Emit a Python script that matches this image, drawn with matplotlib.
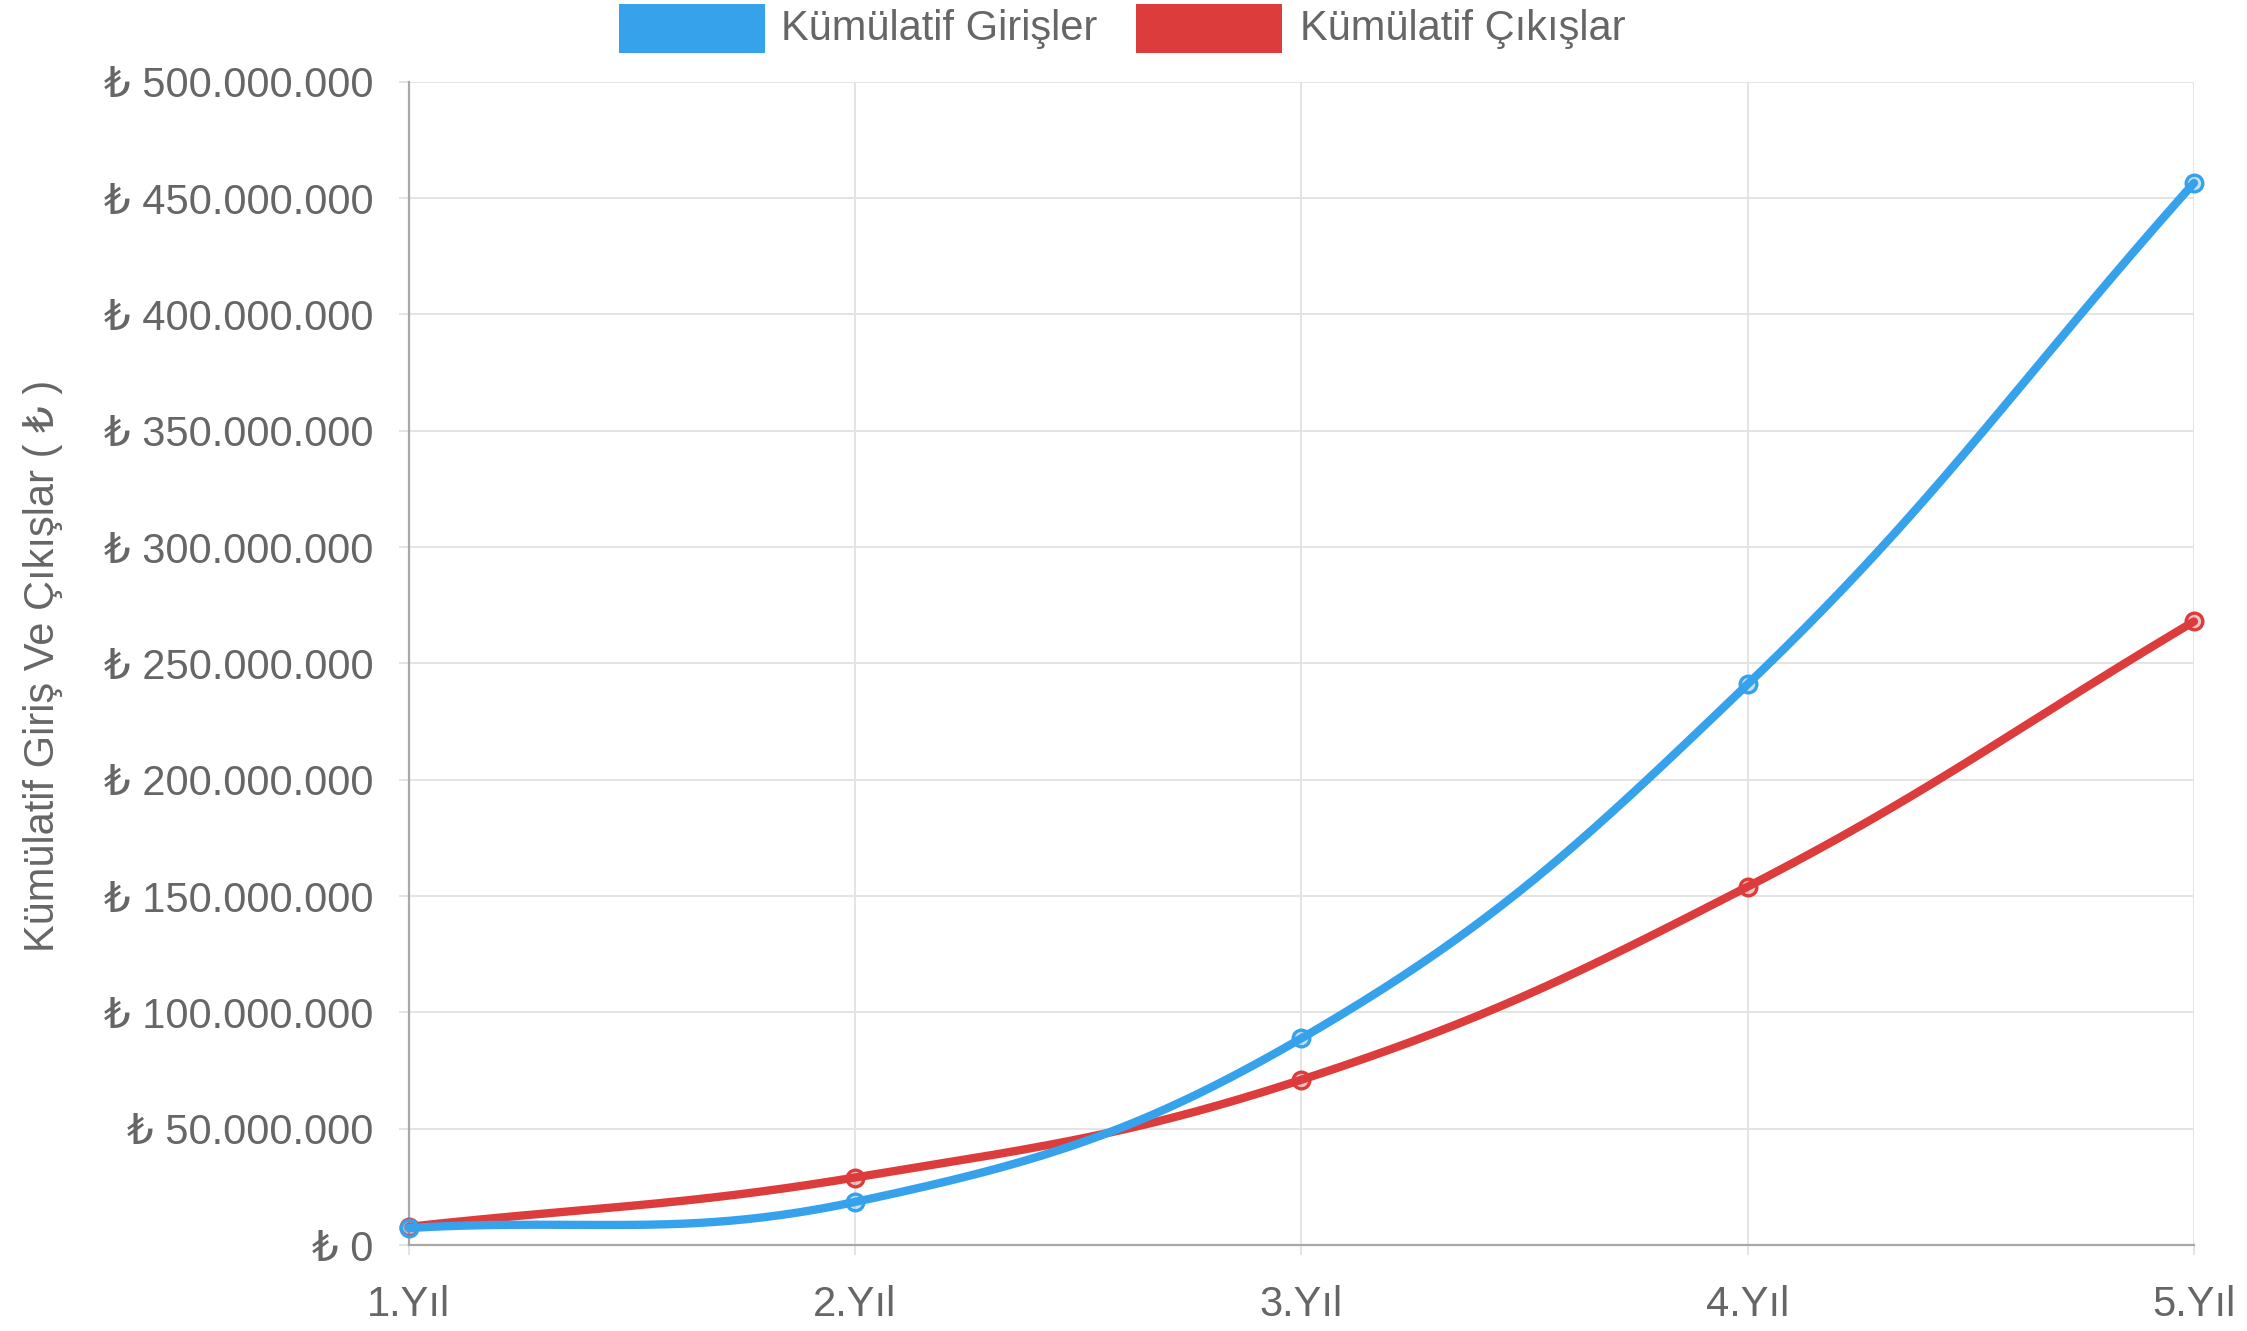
import numpy as np
import matplotlib
matplotlib.use("Agg")
import matplotlib.pyplot as plt
from matplotlib.colors import to_rgba
from matplotlib.patches import Rectangle
from matplotlib.ticker import FuncFormatter, MultipleLocator

# -------------------------------------------------
# Veriler
# -------------------------------------------------
yillar = ["1.Yıl", "2.Yıl", "3.Yıl", "4.Yıl", "5.Yıl"]
kumulatif_giris = [7_300_000, 18_500_000, 88_800_000, 241_000_000, 456_500_000]
kumulatif_cikis = [7_800_000, 29_000_000, 71_000_000, 154_000_000, 268_000_000]
seri_adlari = ["Kümülatif Girişler", "Kümülatif Çıkışlar"]
seri_renkleri = ["#36A2EB", "#DD3C3C"]
y_etiketi = "Kümülatif Giriş Ve Çıkışlar ( ₺ )"

YAZI = "#666666"
IZGARA = "#e4e4e4"
EKSEN = "#a8a8a8"
FONT = 30

plt.rcParams["font.family"] = ["Liberation Sans", "DejaVu Sans"]


def tl_bicim(deger, _pos):
    """Ekseni '₺ 50.000.000' biçiminde yazar."""
    return "₺ " + f"{deger:,.0f}".replace(",", ".")


def spline_egrisi(ax, xs, ys, tension=0.4, adim=80):
    """Chart.js tarzı kübik eğri (kontrol noktaları piksel uzayında)."""
    pts = ax.transData.transform(np.column_stack([xs, ys]))
    n = len(pts)
    kutu = ax.bbox
    onceki, sonraki = [], []
    for i in range(n):
        p0 = pts[max(i - 1, 0)]
        p1 = pts[i]
        p2 = pts[min(i + 1, n - 1)]
        d01 = np.hypot(*(p1 - p0))
        d12 = np.hypot(*(p2 - p1))
        toplam = d01 + d12
        s01 = d01 / toplam if toplam else 0
        s12 = d12 / toplam if toplam else 0
        c_once = p1 - tension * s01 * (p2 - p0)
        c_sonra = p1 + tension * s12 * (p2 - p0)
        # kontrol noktalarını çizim alanında tut
        for c in (c_once, c_sonra):
            c[0] = np.clip(c[0], kutu.x0, kutu.x1)
            c[1] = np.clip(c[1], kutu.y0, kutu.y1)
        onceki.append(c_once)
        sonraki.append(c_sonra)

    t = np.linspace(0, 1, adim)[:, None]
    parcalar = [pts[:1]]
    for i in range(n - 1):
        a, b, c, d = pts[i], sonraki[i], onceki[i + 1], pts[i + 1]
        egri = ((1 - t) ** 3) * a + 3 * ((1 - t) ** 2) * t * b \
            + 3 * (1 - t) * t ** 2 * c + t ** 3 * d
        parcalar.append(egri[1:])
    piksel = np.vstack(parcalar)
    veri = ax.transData.inverted().transform(piksel)
    return veri[:, 0], veri[:, 1]


# -------------------------------------------------
# Figür ve eksen
# -------------------------------------------------
fig = plt.figure(figsize=(22.47, 13.31), dpi=100)
ax = fig.add_axes([0.1818, 0.0646, 0.7946, 0.874])

x = np.arange(len(yillar))
ax.set_xlim(0, len(yillar) - 1)
ax.set_ylim(0, 500_000_000)
ax.set_xticks(x)
ax.set_xticklabels(yillar)
ax.yaxis.set_major_locator(MultipleLocator(50_000_000))
ax.yaxis.set_major_formatter(FuncFormatter(tl_bicim))

ax.grid(True, color=IZGARA, lw=1.4, zorder=0)
ax.set_axisbelow(True)
for kenar in ("top", "right"):
    ax.spines[kenar].set_visible(False)
for kenar in ("left", "bottom"):
    ax.spines[kenar].set_color(EKSEN)
    ax.spines[kenar].set_linewidth(1.6)

ax.tick_params(axis="both", colors=IZGARA, labelcolor=YAZI,
               labelsize=FONT, length=7, width=1.4)
ax.tick_params(axis="y", pad=18)
ax.tick_params(axis="x", pad=22)

# -------------------------------------------------
# Seriler (ilk seri en üstte çizilir)
# -------------------------------------------------
seriler = [kumulatif_giris, kumulatif_cikis]
for sira, (degerler, renk) in enumerate(zip(seriler, seri_renkleri)):
    z = 10 - 2 * sira
    ex, ey = spline_egrisi(ax, x, degerler)
    ax.plot(ex, ey, color=renk, lw=6, solid_capstyle="round",
            clip_on=False, zorder=z)
    ax.plot(x, degerler, "o", ms=12, mfc=to_rgba(renk, 0.3), mec=renk,
            mew=2.4, clip_on=False, zorder=z + 1)

# -------------------------------------------------
# Lejant (üstte, ortada) ve eksen başlığı
# -------------------------------------------------
kutu_x = [0.2755, 0.5057]
yazi_x = [0.3476, 0.5785]
for bx, tx, ad, renk in zip(kutu_x, yazi_x, seri_adlari, seri_renkleri):
    fig.add_artist(Rectangle((bx, 0.960), 0.065, 0.037,
                             transform=fig.transFigure, facecolor=renk,
                             edgecolor="none"))
    fig.text(tx, 0.978, ad, fontsize=FONT, color=YAZI,
             ha="left", va="center")

fig.text(0.019, 0.5, y_etiketi, rotation=90, fontsize=FONT, color=YAZI,
         ha="center", va="center")

fig.savefig("out.png", dpi=100, facecolor="white")
